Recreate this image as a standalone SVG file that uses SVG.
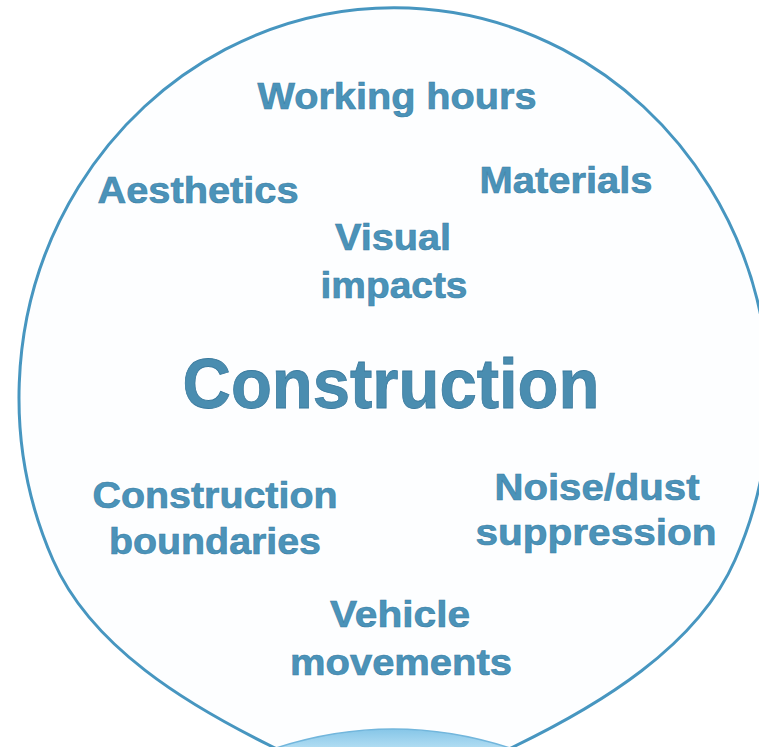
<svg xmlns="http://www.w3.org/2000/svg" width="759" height="747" viewBox="0 0 759 747">
<defs>
<style>
.lbl{font-family:"Liberation Sans",Arial,sans-serif;font-weight:bold;font-size:37px;fill:#4b93b9;stroke:#3a7fa5;stroke-width:0.6;text-anchor:middle}
.big{font-size:71px;fill:#4a8db0;stroke:#3a7a9e;stroke-width:0.8}
</style>
<linearGradient id="lb" x1="0" y1="0" x2="0" y2="1">
<stop offset="0" stop-color="#86c6e8"/>
<stop offset="1" stop-color="#b3def3"/>
</linearGradient>
</defs>
<rect width="759" height="747" fill="#ffffff"/>
<g id="circle">
<path d="M 53 560 A 375 390 0 1 1 735 560 C 697 647 598 706 513 747 C 468 769 318 769 273 747 C 187.5 705 91 647 53 560 Z" fill="#fdfeff" stroke="#4796c0" stroke-width="3"/>
<path d="M 273 749 Q 393 709 513 749 Z" fill="url(#lb)" stroke="#72b6dc" stroke-width="1.5"/>
</g>
<g id="working-hours"><text class="lbl" x="397" y="109" textLength="279" lengthAdjust="spacingAndGlyphs">Working hours</text></g>
<g id="aesthetics"><text class="lbl" x="198" y="203" textLength="201" lengthAdjust="spacingAndGlyphs">Aesthetics</text></g>
<g id="materials"><text class="lbl" x="566" y="193" textLength="173" lengthAdjust="spacingAndGlyphs">Materials</text></g>
<g id="visual-impacts">
<text class="lbl" x="393" y="250" textLength="116" lengthAdjust="spacingAndGlyphs">Visual</text>
<text class="lbl" x="394" y="298" textLength="147" lengthAdjust="spacingAndGlyphs">impacts</text>
</g>
<g id="construction"><text class="lbl big" x="391" y="408" textLength="417" lengthAdjust="spacingAndGlyphs">Construction</text></g>
<g id="construction-boundaries">
<text class="lbl" x="215" y="508" textLength="245" lengthAdjust="spacingAndGlyphs">Construction</text>
<text class="lbl" x="215" y="554" textLength="212" lengthAdjust="spacingAndGlyphs">boundaries</text>
</g>
<g id="noise-dust">
<text class="lbl" x="597" y="500" textLength="205" lengthAdjust="spacingAndGlyphs">Noise/dust</text>
<text class="lbl" x="596" y="545" textLength="241" lengthAdjust="spacingAndGlyphs">suppression</text>
</g>
<g id="vehicle-movements">
<text class="lbl" x="400" y="627" textLength="140" lengthAdjust="spacingAndGlyphs">Vehicle</text>
<text class="lbl" x="401" y="675" textLength="222" lengthAdjust="spacingAndGlyphs">movements</text>
</g>
</svg>
